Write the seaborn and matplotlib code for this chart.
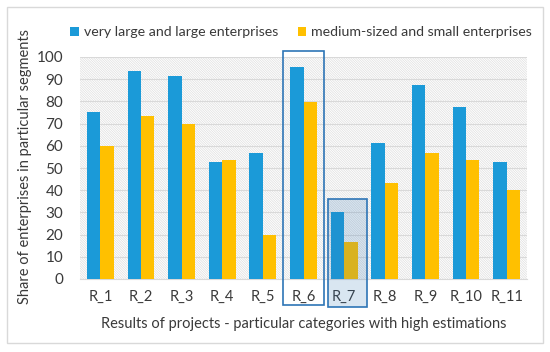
import matplotlib
matplotlib.use("Agg")
import matplotlib.pyplot as plt
from matplotlib.patches import Rectangle
import seaborn as sns
import pandas as pd

categories = ["R_1", "R_2", "R_3", "R_4", "R_5", "R_6", "R_7", "R_8", "R_9", "R_10", "R_11"]
large = [75.3, 93.6, 91.5, 52.8, 56.9, 95.6, 30.4, 61.1, 87.5, 77.4, 52.9]
small = [60.0, 73.3, 70.0, 53.4, 20.0, 79.9, 16.6, 43.3, 56.6, 53.5, 40.1]
series_names = ["very large and large enterprises", "medium-sized and small enterprises"]
colors = ["#1B9AD8", "#FFC000"]

df = pd.DataFrame({
    "category": categories * 2,
    "value": large + small,
    "series": [series_names[0]] * len(categories) + [series_names[1]] * len(categories),
})

sns.set_theme(style="white")
plt.rcParams["font.family"] = ["Lato", "DejaVu Sans"]
plt.rcParams["hatch.color"] = "#DEDEDE"
plt.rcParams["hatch.linewidth"] = 0.5
text_color = "#3A3A3A"

fig = plt.figure(figsize=(5.5, 3.52), dpi=100)
ax = fig.add_axes([80 / 550, 1 - 279 / 352, (527 - 80) / 550, (279 - 57) / 352])

# outer border
fig.patches.append(Rectangle((7 / 550, 1 - 343 / 352), 536 / 550, 336 / 352,
                             transform=fig.transFigure, fill=False,
                             edgecolor="#D9D9D9", linewidth=1.0))

sns.barplot(data=df, x="category", y="value", hue="series", palette=colors,
            width=0.66, gap=0, ax=ax, saturation=1, zorder=3, errorbar=None,
            linewidth=0)

ax.set_ylim(0, 100)
ax.set_xlim(-0.5, len(categories) - 0.5)
ax.set_yticks(range(0, 101, 10))

# hatched background
bg = Rectangle((0, 0), 1, 1, transform=ax.transAxes, facecolor="white",
               edgecolor="#DEDEDE", hatch="\\" * 14, linewidth=0, zorder=0)
ax.add_patch(bg)
ax.set_facecolor("white")

ax.grid(axis="y", color="#D9D9D9", linewidth=0.8, zorder=1)
ax.set_axisbelow(True)
for s in ["top", "right", "left"]:
    ax.spines[s].set_visible(False)
ax.spines["bottom"].set_color("#D9D9D9")
ax.spines["bottom"].set_linewidth(0.8)
ax.tick_params(axis="both", length=0, colors=text_color)
ax.tick_params(axis="y", pad=12, labelsize=11)
ax.tick_params(axis="x", pad=8, labelsize=10.5)

ax.set_xlabel("Results of projects - particular categories with high estimations",
              fontsize=10.5, color=text_color, labelpad=9)
ax.set_ylabel("Share of enterprises in particular segments", fontsize=10.5,
              color=text_color)
ax.yaxis.label.set_va("center")
ax.yaxis.label.set_ha("center")
ax.yaxis.set_label_coords((25 - 80) / 447, (279 - 166) / 222)

# highlight boxes
i6 = categories.index("R_6")
ax.add_patch(Rectangle((i6 - 0.5, -11.7), 1.0, 114.2, fill=False,
                       edgecolor="#2E75B6", linewidth=1.2, clip_on=False, zorder=5))
i7 = categories.index("R_7")
ax.add_patch(Rectangle((i7 - 0.4, -12.7), 0.96, 48.7, facecolor="#2E75B6", alpha=0.18,
                       edgecolor="none", clip_on=False, zorder=4))
ax.add_patch(Rectangle((i7 - 0.4, -12.7), 0.96, 48.7, fill=False,
                       edgecolor="#2E75B6", linewidth=1.2, clip_on=False, zorder=5))

leg = ax.legend(loc="lower center", bbox_to_anchor=(0.495, 1.06), ncol=2, frameon=False,
                fontsize=10.2, handlelength=0.6, handleheight=0.6, handletextpad=0.35,
                columnspacing=1.4, borderaxespad=0, labelcolor=text_color)

fig.savefig("out.png", dpi=100)
